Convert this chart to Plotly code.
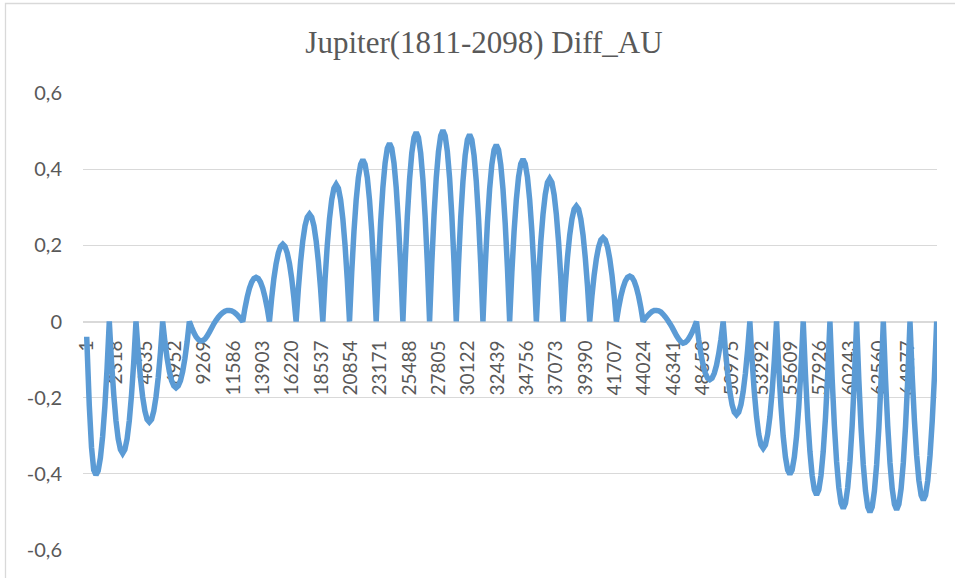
import plotly.graph_objects as go

# ---------------- data ----------------
title_text = "Jupiter(1811-2098) Diff_AU"

# category (row) labels shown on the x axis
x_tick_rows = [1, 2318, 4635, 6952, 9269, 11586, 13903, 16220, 18537, 20854,
               23171, 25488, 27805, 30122, 32439, 34756, 37073, 39390, 41707,
               44024, 46341, 48658, 50975, 53292, 55609, 57926, 60243, 62560,
               64877]
x_tick_labels = [str(v) for v in x_tick_rows]

y_tick_vals = [-0.6, -0.4, -0.2, 0.0, 0.2, 0.4, 0.6]
y_tick_labels = ["-0,6", "-0,4", "-0,2", "0", "0,2", "0,4", "0,6"]

# rows at which the curve was read: first row, then evenly spaced rows
first_row = 1
sample_origin_row = -322.0
sample_row_step = 175.63
sample_first, sample_last = 3, 384

# Diff_AU values read at those rows
diff_au = [
    -0.040,
    -0.220, -0.330, -0.390, -0.403, -0.392, -0.358, -0.302, -0.224, -0.123,
    0.000, -0.106, -0.192, -0.260, -0.308, -0.336, -0.346, -0.336, -0.308, -0.260, -0.192, -0.106,
    0.000, -0.081, -0.147, -0.198, -0.235, -0.257, -0.264, -0.257, -0.235, -0.198, -0.147, -0.081,
    0.000, -0.053, -0.097, -0.131, -0.155, -0.169, -0.174, -0.169, -0.155, -0.131, -0.097, -0.053,
    0.000, -0.015, -0.029, -0.040, -0.047, -0.051, -0.050, -0.046, -0.038, -0.028, -0.017, -0.006,
    0.003, 0.011, 0.018, 0.023, 0.027, 0.029, 0.029, 0.028, 0.025, 0.020, 0.014, 0.007,
    0.000, 0.035, 0.064, 0.087, 0.103, 0.113, 0.116, 0.113, 0.103, 0.087, 0.064, 0.035,
    0.000, 0.062, 0.113, 0.152, 0.180, 0.197, 0.203, 0.197, 0.180, 0.152, 0.113, 0.062,
    0.000, 0.086, 0.157, 0.212, 0.251, 0.274, 0.282, 0.274, 0.251, 0.212, 0.157, 0.086,
    0.000, 0.110, 0.200, 0.270, 0.320, 0.350, 0.360, 0.350, 0.320, 0.270, 0.200, 0.110,
    0.000, 0.130, 0.236, 0.319, 0.378, 0.413, 0.425, 0.413, 0.378, 0.319, 0.236, 0.130,
    0.000, 0.143, 0.260, 0.351, 0.416, 0.455, 0.468, 0.455, 0.416, 0.351, 0.260, 0.143,
    0.000, 0.152, 0.276, 0.373, 0.442, 0.483, 0.497, 0.483, 0.442, 0.373, 0.276, 0.152,
    0.000, 0.154, 0.279, 0.377, 0.446, 0.488, 0.502, 0.488, 0.446, 0.377, 0.279, 0.154,
    0.000, 0.150, 0.273, 0.368, 0.436, 0.477, 0.491, 0.477, 0.436, 0.368, 0.273, 0.150,
    0.000, 0.142, 0.258, 0.348, 0.412, 0.451, 0.464, 0.451, 0.412, 0.348, 0.258, 0.142,
    0.000, 0.130, 0.237, 0.320, 0.379, 0.414, 0.426, 0.414, 0.379, 0.320, 0.237, 0.130,
    0.000, 0.115, 0.209, 0.281, 0.333, 0.365, 0.375, 0.365, 0.333, 0.281, 0.209, 0.115,
    0.000, 0.093, 0.168, 0.227, 0.269, 0.295, 0.303, 0.295, 0.269, 0.227, 0.168, 0.093,
    0.000, 0.067, 0.122, 0.165, 0.196, 0.214, 0.220, 0.214, 0.196, 0.165, 0.122, 0.067,
    0.000, 0.036, 0.066, 0.089, 0.106, 0.116, 0.119, 0.116, 0.106, 0.089, 0.066, 0.036,
    0.000, 0.008, 0.015, 0.021, 0.026, 0.029, 0.029, 0.028, 0.025, 0.019, 0.012, 0.004,
    -0.005, -0.015, -0.026, -0.037, -0.046, -0.053, -0.057, -0.055, -0.049, -0.040, -0.029, -0.015,
    0.000, -0.047, -0.085, -0.115, -0.136, -0.149, -0.153, -0.149, -0.136, -0.115, -0.085, -0.047,
    0.000, -0.075, -0.136, -0.184, -0.218, -0.238, -0.245, -0.238, -0.218, -0.184, -0.136, -0.075,
    0.000, -0.102, -0.185, -0.250, -0.296, -0.324, -0.333, -0.324, -0.296, -0.250, -0.185, -0.102,
    0.000, -0.123, -0.223, -0.301, -0.356, -0.390, -0.401, -0.390, -0.356, -0.301, -0.223, -0.123,
    0.000, -0.139, -0.253, -0.341, -0.404, -0.442, -0.455, -0.442, -0.404, -0.341, -0.253, -0.139,
    0.000, -0.150, -0.273, -0.368, -0.436, -0.477, -0.491, -0.477, -0.436, -0.368, -0.273, -0.150,
    0.000, -0.153, -0.279, -0.376, -0.445, -0.487, -0.501, -0.487, -0.445, -0.376, -0.279, -0.153,
    0.000, -0.151, -0.275, -0.371, -0.439, -0.480, -0.494, -0.480, -0.439, -0.371, -0.275, -0.151,
    0.000, -0.144, -0.261, -0.352, -0.417, -0.456, -0.469, -0.456, -0.417, -0.352, -0.261, -0.144,
    0.000,
]

rows = [first_row] + [round(sample_origin_row + sample_row_step * j)
                      for j in range(sample_first, sample_last + 1)]

# ---------------- figure ----------------
LINE_BLUE = "#5B9BD5"
TEXT_GRAY = "#595959"
GRID_GRAY = "#D9D9D9"

fig = go.Figure()
fig.add_trace(go.Scatter(
    x=rows, y=diff_au, mode="lines",
    line=dict(color=LINE_BLUE, width=5.5, simplify=False),
    hoverinfo="skip", showlegend=False,
))

fig.update_layout(
    width=955, height=578,
    margin=dict(l=83, r=18, t=93, b=28, pad=0),
    paper_bgcolor="white", plot_bgcolor="white",
    showlegend=False,
    hovermode=False,
    title=dict(
        text=title_text,
        font=dict(family="Liberation Serif, Times New Roman, serif", size=31, color=TEXT_GRAY),
        x=484 / 955, xref="container", xanchor="center",
        y=1 - 41.7 / 578, yref="container", yanchor="middle",
    ),
    xaxis=dict(
        range=[-291, 67145],
        tickmode="array", tickvals=x_tick_rows, ticktext=x_tick_labels,
        tickangle=-90,
        anchor="free", position=0.5,
        showgrid=False, zeroline=False,
        showline=True, linecolor=GRID_GRAY, linewidth=1.3,
        ticks="", ticklabelstandoff=10,
        tickfont=dict(family="Lato, Carlito, sans-serif", size=19, color=TEXT_GRAY),
        layer="below traces",
    ),
    yaxis=dict(
        range=[-0.6, 0.6],
        tickmode="array", tickvals=y_tick_vals, ticktext=y_tick_labels,
        showgrid=True, gridcolor=GRID_GRAY, gridwidth=1.3,
        zeroline=False, showline=False,
        ticks="", ticklabelstandoff=20,
        tickfont=dict(family="Lato, Carlito, sans-serif", size=20, color=TEXT_GRAY),
        layer="below traces",
    ),
    shapes=[dict(
        type="rect", xref="paper", yref="paper",
        x0=(5.5 - 83) / 854, x1=(962 - 83) / 854,
        y0=(550 - 590) / 457, y1=(550 - 3.5) / 457,
        line=dict(color=GRID_GRAY, width=1.3), fillcolor="rgba(0,0,0,0)",
        layer="below",
    )],
)

fig.write_html(
    "out.html",
    config={"displayModeBar": False, "staticPlot": True},
    post_script="document.body.style.margin='0';document.body.style.padding='0';",
)
